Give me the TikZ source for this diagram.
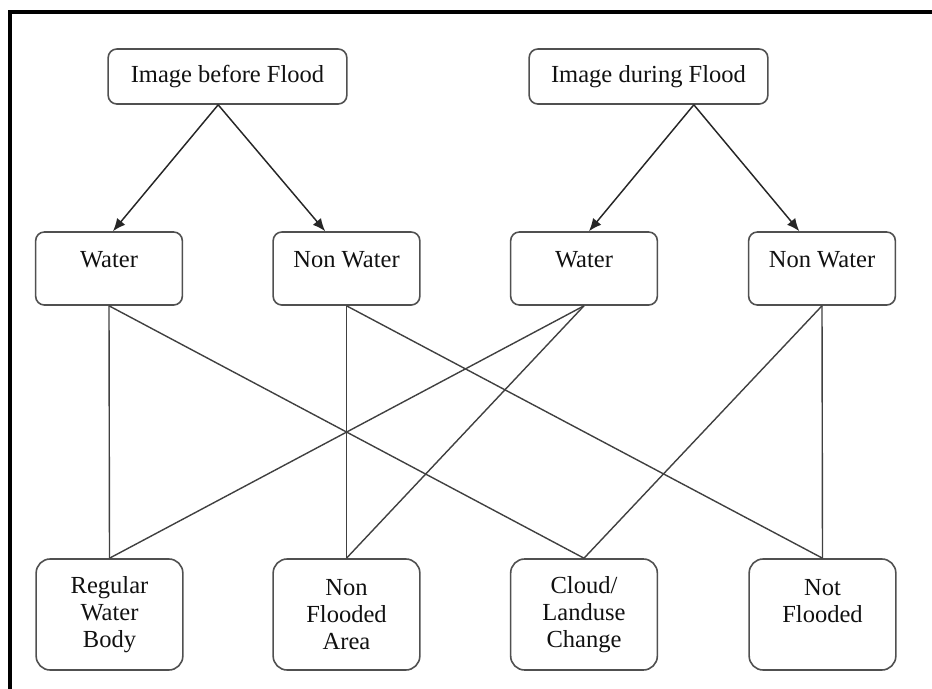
\documentclass[tikz,border=0pt]{standalone}
\usepackage{fontspec}
\setmainfont{Liberation Serif}
\usetikzlibrary{arrows.meta}
\definecolor{boxc}{HTML}{505050}
\definecolor{linec}{HTML}{404040}
\definecolor{txtc}{HTML}{111111}
\begin{document}
\begin{tikzpicture}[x=0.75pt,y=-0.75pt,
  every node/.style={font=\fontsize{18.4pt}{20pt}\selectfont, text=txtc},
  topbox/.style={draw=boxc, line width=1.2pt, rounded corners=6.5pt, minimum width=179pt, minimum height=41.25pt, inner sep=0pt},
  midbox/.style={draw=boxc, line width=1.2pt, rounded corners=6.5pt, minimum width=110pt, inner xsep=0pt, inner ysep=0pt, text height=26.25pt, text depth=28.5pt},
  botbox/.style={draw=boxc, line width=1.2pt, rounded corners=10.5pt, minimum width=110pt, minimum height=83.25pt, inner sep=0pt, align=center},
  arr/.style={draw=black!85, line width=1.1pt, -{Latex[length=9.5pt,width=8pt]}},
  conn/.style={draw=linec, line width=1.05pt}]
\useasboundingbox (0,0) rectangle (932,689);
% frame
\draw[line width=3pt, black] (9.5,689) -- (9.5,12) -- (932,12);
% top boxes
\node[topbox] (top1) at (227.5,76.5) {Image before Flood};
\node[topbox] (top2) at (648.5,76.5) {Image during Flood};
% middle boxes
\node[midbox] (w1) at (109,268.5) {Water};
\node[midbox] (nw1) at (346.5,268.5) {Non Water};
\node[midbox] (w2) at (584,268.5) {Water};
\node[midbox] (nw2) at (822,268.5) {Non Water};
% bottom boxes
\node[botbox] (b1) at (109.5,614.5) {Regular\\Water\\Body};
\node[botbox] (b2) at (346.5,614.5) {Non\\Flooded\\Area};
\node[botbox] (b3) at (584,614.5) {Cloud/\\Landuse\\Change};
\node[botbox] (b4) at (822.5,614.5) {Not\\Flooded\\{}};
% arrows
\draw[arr] ([xshift=-7pt]top1.south) -- ([xshift=3pt]w1.north);
\draw[arr] ([xshift=-7pt]top1.south) -- ([xshift=-16pt]nw1.north);
\draw[arr] ([xshift=34pt]top2.south) -- ([xshift=3.75pt]w2.north);
\draw[arr] ([xshift=34pt]top2.south) -- ([xshift=-17pt]nw2.north);
% connectors
\draw[conn] (w1.south) -- (b1.north);
\draw[conn] (w1.south) -- (b3.north);
\draw[conn] (nw1.south) -- (b2.north);
\draw[conn] (nw1.south) -- (b4.north);
\draw[conn] (w2.south) -- (b1.north);
\draw[conn] (w2.south) -- (b2.north);
\draw[conn] (nw2.south) -- (b3.north);
\draw[conn] (nw2.south) -- (b4.north);
\end{tikzpicture}
\end{document}
